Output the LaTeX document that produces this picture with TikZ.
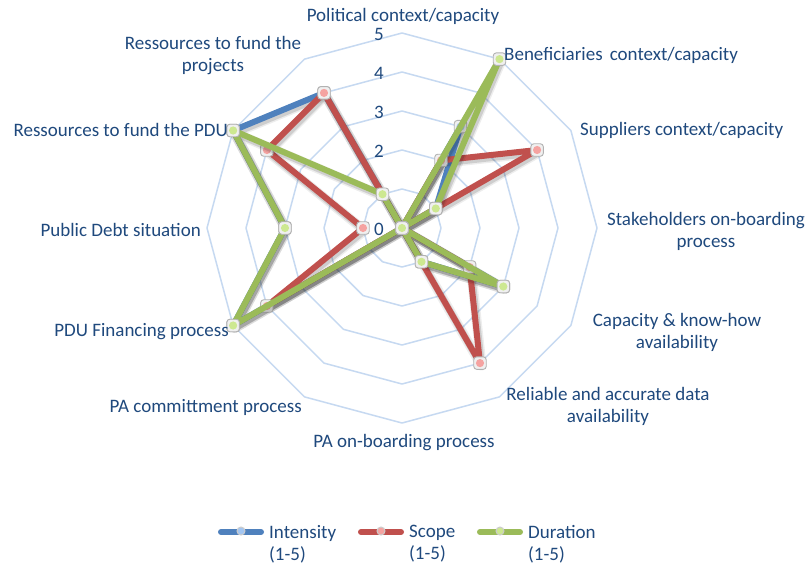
\documentclass[tikz,border=0pt]{standalone}
\usepackage{fontspec}
\setmainfont{Carlito}
\definecolor{txt}{HTML}{1F497D}
\definecolor{gridc}{HTML}{C6D9F1}
\definecolor{serA}{HTML}{4F81BD}
\definecolor{serB}{HTML}{C0504D}
\definecolor{serC}{HTML}{9BBB59}
\definecolor{mkA}{HTML}{A3C6F2}
\definecolor{mkB}{HTML}{F5A3A1}
\definecolor{mkC}{HTML}{CDE891}
\newcommand\chartmk[3]{%
  \node[mkbox] (#1) at (#2) {};
  \fill[#3] (#1.center) circle (4.1pt);}
\newcommand\polar[3]{\coordinate (#1) at ({402+39*#3*sin(30*#2)},{228-39*#3*cos(30*#2)});}
\begin{document}
\begin{tikzpicture}[x=1pt,y=-1pt,
  lbl/.style={font=\fontsize{19}{22}\selectfont, text=txt, inner sep=0pt, align=center},
  ring/.style={draw=gridc, line width=1.5pt, line join=round},
  serline/.style={line width=6pt, line join=round},
  shadowline/.style={draw=black, line join=round},
  mkbox/.style={rounded corners=3pt, draw=black!30, fill=black!6, minimum size=12.5pt, inner sep=0pt, line width=0.9pt},
  legline/.style={line width=6pt, line cap=round},
  legmk/.style={circle, draw=white!80!black, minimum size=8pt, inner sep=0pt, line width=1pt},
]
\useasboundingbox (0,0) rectangle (811,571);
\fill[white] (0,0) rectangle (811,571);

% grid rings
\foreach \r in {1,...,5}{
  \draw[ring] (402,{228-39*\r}) \foreach \k in {1,...,11}{ -- ({402+39*\r*sin(30*\k)},{228-39*\r*cos(30*\k)}) } -- cycle;
}

% tick labels
\foreach \v in {0,...,5}{
  \node[lbl] (t\v) at (379,{229-39*\v}) {\v};
}

% data coordinates
\foreach \v [count=\k from 0] in {0,3,1,0,3,1,0,0,5,3,5,4}{ \polar{I\k}{\k}{\v} }
\foreach \v [count=\k from 0] in {0,2,4,0,2,4,0,0,4,1,4,4}{ \polar{S\k}{\k}{\v} }
\foreach \v [count=\k from 0] in {0,5,1,0,3,1,0,0,5,3,5,1}{ \polar{D\k}{\k}{\v} }

% Intensity
\begin{scope}[transform canvas={xshift=1.5pt,yshift=-2.5pt}]
\draw[shadowline, line width=10pt, opacity=0.07] (I0)--(I1)--(I2)--(I3)--(I4)--(I5)--(I6)--(I7)--(I8)--(I9)--(I10)--(I11)--cycle;
\draw[shadowline, line width=7pt, opacity=0.13] (I0)--(I1)--(I2)--(I3)--(I4)--(I5)--(I6)--(I7)--(I8)--(I9)--(I10)--(I11)--cycle;
\end{scope}
\draw[serline, serA] (I0)--(I1)--(I2)--(I3)--(I4)--(I5)--(I6)--(I7)--(I8)--(I9)--(I10)--(I11)--cycle;
\foreach \k in {0,...,11}{ \chartmk{mI\k}{I\k}{mkA} }

% Scope
\begin{scope}[transform canvas={xshift=1.5pt,yshift=-2.5pt}]
\draw[shadowline, line width=10pt, opacity=0.07] (S0)--(S1)--(S2)--(S3)--(S4)--(S5)--(S6)--(S7)--(S8)--(S9)--(S10)--(S11)--cycle;
\draw[shadowline, line width=7pt, opacity=0.13] (S0)--(S1)--(S2)--(S3)--(S4)--(S5)--(S6)--(S7)--(S8)--(S9)--(S10)--(S11)--cycle;
\end{scope}
\draw[serline, serB] (S0)--(S1)--(S2)--(S3)--(S4)--(S5)--(S6)--(S7)--(S8)--(S9)--(S10)--(S11)--cycle;
\foreach \k in {0,...,11}{ \chartmk{mS\k}{S\k}{mkB} }

% Duration
\begin{scope}[transform canvas={xshift=1.5pt,yshift=-2.5pt}]
\draw[shadowline, line width=10pt, opacity=0.07] (D0)--(D1)--(D2)--(D3)--(D4)--(D5)--(D6)--(D7)--(D8)--(D9)--(D10)--(D11)--cycle;
\draw[shadowline, line width=7pt, opacity=0.13] (D0)--(D1)--(D2)--(D3)--(D4)--(D5)--(D6)--(D7)--(D8)--(D9)--(D10)--(D11)--cycle;
\end{scope}
\draw[serline, serC] (D0)--(D1)--(D2)--(D3)--(D4)--(D5)--(D6)--(D7)--(D8)--(D9)--(D10)--(D11)--cycle;
\foreach \k in {0,...,11}{ \chartmk{mD\k}{D\k}{mkC} }

% category labels
\node[lbl] (c0) at (403,16) {Political context/capacity};
\node[lbl, anchor=west] (c1) at (504,55) {Beneficiaries\hspace{0.15em} context/capacity};
\node[lbl, anchor=west] (c2) at (580,130) {Suppliers context/capacity};
\node[lbl] (c3) at (706,231) {Stakeholders on-boarding\\process};
\node[lbl] (c4) at (677,332) {Capacity \& know-how\\availability};
\node[lbl] (c5) at (608,406) {Reliable and accurate data\\availability};
\node[lbl] (c6) at (404,443) {PA on-boarding process};
\node[lbl, anchor=east] (c7) at (302,407) {PA committment process};
\node[lbl, anchor=east] (c8) at (229,332) {PDU Financing process};
\node[lbl, anchor=east] (c9) at (201,230) {Public Debt situation};
\node[lbl, anchor=east] (c10) at (228,130) {Ressources to fund the PDU};
\node[lbl] (c11) at (213,56) {Ressources to fund the\\projects};

% legend
\coordinate (lA1) at (221,532); \coordinate (lA2) at (261,532);
\coordinate (lB1) at (361,532); \coordinate (lB2) at (401,532);
\coordinate (lC1) at (480,532); \coordinate (lC2) at (520,532);
\draw[legline, serA] (lA1) -- (lA2);
\draw[legline, serB] (lB1) -- (lB2);
\draw[legline, serC] (lC1) -- (lC2);
\node[legmk, fill=mkA] (gA) at (241,531) {};
\node[legmk, fill=mkB] (gB) at (381,531) {};
\node[legmk, fill=mkC] (gC) at (500,531) {};
\node[lbl, anchor=west, align=left] (eA) at (269,544) {Intensity\\(1-5)};
\node[lbl, anchor=west, align=left] (eB) at (409,544) {Scope\\(1-5)};
\node[lbl, anchor=west, align=left] (eC) at (528,544) {Duration\\(1-5)};
\end{tikzpicture}
\end{document}
